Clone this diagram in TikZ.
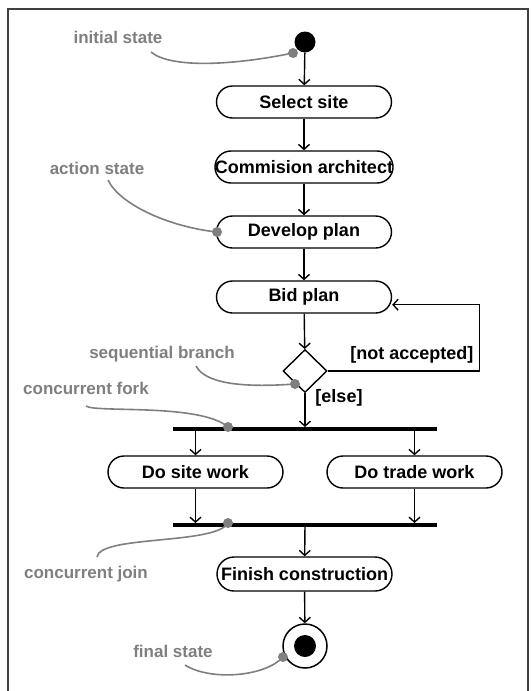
\documentclass[tikz,border=0pt]{standalone}
\usepackage{fontspec}
\setmainfont{Liberation Sans}
\usetikzlibrary{arrows.meta,shapes.geometric}
\definecolor{notegray}{HTML}{7F7F7F}
\definecolor{framegray}{HTML}{404040}
\begin{document}
\begin{tikzpicture}[x=1pt,y=-1pt,
  every node/.style={font=\fontsize{18}{21}\selectfont\bfseries},
  action/.style={draw,line width=1.4pt,rectangle,rounded corners=16pt,
    minimum width=175pt,minimum height=32pt,inner sep=0pt},
  bar/.style={fill=black,rectangle,inner sep=0pt,minimum width=264pt,minimum height=3.5pt},
  flow/.style={line width=1.4pt,-{Straight Barb[length=5pt,width=11pt,line width=1.4pt]}},
  note/.style={text=notegray,font=\fontsize{17}{20}\selectfont\bfseries,inner sep=0pt},
  noteline/.style={draw=notegray,line width=1.6pt},
  notedot/.style={fill=notegray,circle,inner sep=0pt,minimum size=10pt}]
\useasboundingbox (0,0) rectangle (531,691);
% outer frame
\draw[framegray,line width=1.6pt] (8,700) -- (8,9) -- (528,9) -- (528,700);

% states and actions
\node[circle,fill=black,inner sep=0pt,minimum size=21pt] (init) at (305,42) {};
\node[action] (select) at (304,102) {Select site};
\node[action] (commission) at (304,167) {Commision architect};
\node[action] (develop) at (304,232) {Develop plan};
\node[action] (bid) at (304,297) {Bid plan};
\node[draw,line width=1.4pt,diamond,inner sep=0pt,minimum width=44pt,minimum height=43pt,fill=white] (branch) at (305,371) {};
\node[bar] (fork) at (305,429) {};
\node[action] (site) at (195.5,472) {Do site work};
\node[action] (trade) at (414.5,472) {Do trade work};
\node[bar] (join) at (305,525) {};
\node[action,minimum height=34pt,rounded corners=17pt] (finish) at (304.5,574) {Finish construction};
\node[circle,draw,line width=1.5pt,inner sep=0pt,minimum size=44pt] (final) at (305,646) {};
\node[circle,fill=black,inner sep=0pt,minimum size=22pt] (finaldot) at (final.center) {};

% guard labels
\node (notacc) at (412,355) {[not accepted]};
\node (else) at (339,398) {[else]};

% control flow
\draw[flow] (init) -- (select);
\draw[flow] (select) -- (commission);
\draw[flow] (commission) -- (develop);
\draw[flow] (develop) -- (bid);
\draw[flow] (bid) -- (branch);
\draw[flow] (branch.east) -- ++(152,0) |- (bid.-5);
\draw[flow] (branch) -- (fork);
\draw[flow] (fork.south -| site.north) -- (site.north);
\draw[flow] (fork.south -| trade.north) -- (trade.north);
\draw[flow] (site.south) -- (site.south |- join.north);
\draw[flow] (trade.south) -- (trade.south |- join.north);
\draw[flow] (join) -- (finish);
\draw[flow] (finish) -- (final);

% annotations
\node[note] (ninit) at (118,37) {initial state};
\node[notedot] (dinit) at (293,53) {};
\draw[noteline] (151,52) .. controls (170,68) and (230,66) .. (dinit.center);

\node[note] (naction) at (97,168) {action state};
\node[notedot] (daction) at (217,232) {};
\draw[noteline] (108,180) .. controls (120,205) and (170,227) .. (daction.center);

\node[note] (nbranch) at (162,354) {sequential branch};
\node[notedot] (dbranch) at (295,384) {};
\draw[noteline] (196,366) .. controls (205,383) and (240,388) .. (dbranch.center);

\node[note] (nfork) at (86,388) {concurrent fork};
\node[notedot] (dfork) at (228,427) {};
\draw[noteline] (86,406) .. controls (95,413) and (200,403) .. (dfork.center);

\node[note] (njoin) at (86,574) {concurrent join};
\node[notedot] (djoin) at (228,523) {};
\draw[noteline] (djoin.center) .. controls (215,545) and (100,535) .. (97,557);

\node[note] (nfinal) at (173,651) {final state};
\node[notedot] (dfinal) at (283,657) {};
\draw[noteline] (185,665) .. controls (210,681) and (265,677) .. (dfinal.center);
\end{tikzpicture}
\end{document}
